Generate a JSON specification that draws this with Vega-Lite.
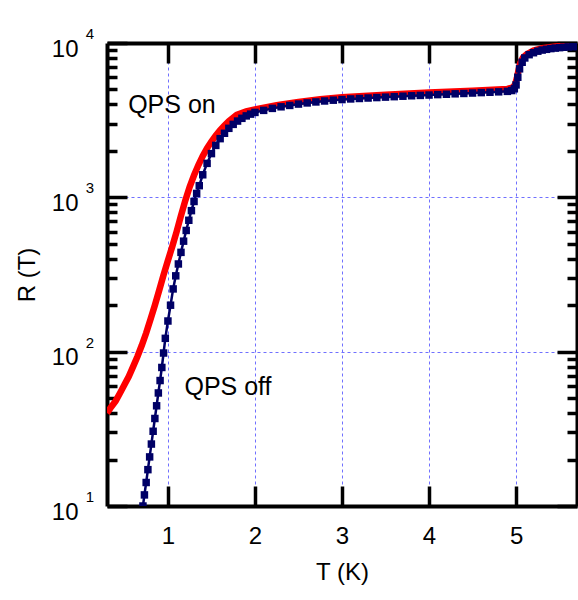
{
  "$schema": "https://vega.github.io/schema/vega-lite/v6.json",
  "width": 470,
  "height": 463,
  "autosize": "none",
  "padding": {"left": 107, "top": 43, "right": 1, "bottom": 94},
  "background": "white",
  "config": {
    "view": {"stroke": null},
    "font": "Liberation Sans",
    "axis": {
      "domainColor": "black",
      "domainWidth": 4,
      "tickColor": "black",
      "tickWidth": 3.5,
      "labelColor": "black",
      "labelFont": "Liberation Sans",
      "labelFontSize": 24,
      "titleFont": "Liberation Sans",
      "titleFontSize": 24,
      "titleFontWeight": "normal",
      "titleColor": "black",
      "gridColor": "#7070ff",
      "gridDash": [3, 3],
      "gridWidth": 1,
      "labelOverlap": false,
      "labelFlush": false,
      "labelBound": false
    }
  },
  "datasets": {
    "on": [
      {"T": 0.30, "R": 40}, {"T": 0.35, "R": 44}, {"T": 0.40, "R": 48}, {"T": 0.45, "R": 54},
      {"T": 0.50, "R": 61}, {"T": 0.55, "R": 69}, {"T": 0.60, "R": 80}, {"T": 0.65, "R": 93},
      {"T": 0.70, "R": 110}, {"T": 0.75, "R": 132}, {"T": 0.80, "R": 162}, {"T": 0.85, "R": 200},
      {"T": 0.90, "R": 250}, {"T": 0.95, "R": 315}, {"T": 1.00, "R": 390}, {"T": 1.05, "R": 480},
      {"T": 1.10, "R": 600}, {"T": 1.15, "R": 760}, {"T": 1.20, "R": 955}, {"T": 1.25, "R": 1170},
      {"T": 1.30, "R": 1390}, {"T": 1.35, "R": 1620}, {"T": 1.40, "R": 1850}, {"T": 1.45, "R": 2080},
      {"T": 1.50, "R": 2300}, {"T": 1.55, "R": 2520}, {"T": 1.60, "R": 2720}, {"T": 1.65, "R": 2920},
      {"T": 1.70, "R": 3120}, {"T": 1.79, "R": 3420}, {"T": 1.90, "R": 3600}, {"T": 2.00, "R": 3710},
      {"T": 2.25, "R": 3950}, {"T": 2.50, "R": 4150}, {"T": 2.75, "R": 4320}, {"T": 3.00, "R": 4450},
      {"T": 3.50, "R": 4620}, {"T": 4.00, "R": 4780}, {"T": 4.50, "R": 4910}, {"T": 4.90, "R": 5040},
      {"T": 4.96, "R": 5150}, {"T": 4.99, "R": 5400}, {"T": 5.01, "R": 5950}, {"T": 5.03, "R": 6750},
      {"T": 5.05, "R": 7450}, {"T": 5.08, "R": 8050}, {"T": 5.12, "R": 8450}, {"T": 5.20, "R": 8950},
      {"T": 5.30, "R": 9250}, {"T": 5.45, "R": 9500}, {"T": 5.70, "R": 9800}
    ],
    "off": [
      {"T": 0.705, "R": 9.3}, {"T": 0.713, "R": 10}, {"T": 0.73, "R": 11.8}, {"T": 0.75, "R": 14.2},
      {"T": 0.77, "R": 17.2}, {"T": 0.79, "R": 20.8}, {"T": 0.81, "R": 25.2}, {"T": 0.83, "R": 30.5},
      {"T": 0.85, "R": 36.9}, {"T": 0.87, "R": 44.6}, {"T": 0.89, "R": 54}, {"T": 0.91, "R": 65},
      {"T": 0.93, "R": 79}, {"T": 0.95, "R": 98}, {"T": 0.97, "R": 122}, {"T": 1.00, "R": 158},
      {"T": 1.03, "R": 200}, {"T": 1.06, "R": 255}, {"T": 1.09, "R": 310}, {"T": 1.12, "R": 370},
      {"T": 1.15, "R": 440}, {"T": 1.18, "R": 520}, {"T": 1.21, "R": 610}, {"T": 1.24, "R": 710},
      {"T": 1.27, "R": 820}, {"T": 1.30, "R": 940}, {"T": 1.33, "R": 1060}, {"T": 1.36, "R": 1190},
      {"T": 1.40, "R": 1400}, {"T": 1.45, "R": 1660}, {"T": 1.50, "R": 1920}, {"T": 1.55, "R": 2170},
      {"T": 1.60, "R": 2400}, {"T": 1.65, "R": 2600}, {"T": 1.70, "R": 2800}, {"T": 1.75, "R": 2970},
      {"T": 1.80, "R": 3120}, {"T": 1.85, "R": 3250}, {"T": 1.90, "R": 3370}, {"T": 1.95, "R": 3460},
      {"T": 2.00, "R": 3550}, {"T": 2.10, "R": 3660}, {"T": 2.20, "R": 3770}, {"T": 2.30, "R": 3860},
      {"T": 2.40, "R": 3940}, {"T": 2.50, "R": 4020}, {"T": 2.60, "R": 4090}, {"T": 2.70, "R": 4150},
      {"T": 2.80, "R": 4210}, {"T": 2.90, "R": 4260}, {"T": 3.00, "R": 4300}, {"T": 3.10, "R": 4340},
      {"T": 3.20, "R": 4370}, {"T": 3.30, "R": 4400}, {"T": 3.40, "R": 4430}, {"T": 3.50, "R": 4460},
      {"T": 3.60, "R": 4490}, {"T": 3.70, "R": 4520}, {"T": 3.80, "R": 4550}, {"T": 3.90, "R": 4575},
      {"T": 4.00, "R": 4600}, {"T": 4.10, "R": 4630}, {"T": 4.20, "R": 4655}, {"T": 4.30, "R": 4685},
      {"T": 4.40, "R": 4710}, {"T": 4.50, "R": 4740}, {"T": 4.60, "R": 4770}, {"T": 4.70, "R": 4795},
      {"T": 4.80, "R": 4825}, {"T": 4.90, "R": 4860}, {"T": 4.95, "R": 4920}, {"T": 4.98, "R": 5050},
      {"T": 5.00, "R": 5350}, {"T": 5.02, "R": 6000}, {"T": 5.04, "R": 6800}, {"T": 5.07, "R": 7500},
      {"T": 5.10, "R": 8000}, {"T": 5.15, "R": 8400}, {"T": 5.20, "R": 8650}, {"T": 5.25, "R": 8850},
      {"T": 5.30, "R": 9000}, {"T": 5.35, "R": 9100}, {"T": 5.40, "R": 9200}, {"T": 5.45, "R": 9270},
      {"T": 5.50, "R": 9330}, {"T": 5.55, "R": 9380}, {"T": 5.60, "R": 9430}, {"T": 5.65, "R": 9470},
      {"T": 5.70, "R": 9500}
    ],
    "labels": [
      {"T": 1.046, "R": 3950, "text": "QPS on"},
      {"T": 1.69, "R": 59, "text": "QPS off"}
    ]
  },
  "layer": [
    {
      "data": {"name": "on"},
      "mark": {"type": "line", "color": "#ff0000", "strokeWidth": 6.5, "clip": true},
      "encoding": {
        "x": {
          "field": "T", "type": "quantitative",
          "scale": {"domain": [0.3, 5.7], "nice": false, "zero": false},
          "axis": {
            "orient": "bottom", "values": [1, 2, 3, 4, 5], "format": "d",
            "tickSize": -20, "labelPadding": 38, "grid": true, "titlePadding": 12
          },
          "title": "T (K)"
        },
        "y": {
          "field": "R", "type": "quantitative",
          "scale": {"type": "log", "domain": [10, 10000], "nice": false},
          "axis": {
            "orient": "left",
            "values": [10, 20, 30, 40, 50, 60, 70, 80, 90, 100, 200, 300, 400, 500, 600, 700, 800, 900, 1000, 2000, 3000, 4000, 5000, 6000, 7000, 8000, 9000, 10000],
            "tickSize": {"condition": {"test": "datum.value == 10 || datum.value == 100 || datum.value == 1000 || datum.value == 10000", "value": -20}, "value": -10},
            "labelExpr": "datum.value == 10 || datum.value == 100 || datum.value == 1000 || datum.value == 10000 ? '10' : ''",
            "labelPadding": 49,
            "labelOffset": 6,
            "grid": true,
            "gridOpacity": {"condition": {"test": "datum.value == 100 || datum.value == 1000", "value": 1}, "value": 0},
            "titlePadding": 12
          },
          "title": "R (T)"
        }
      }
    },
    {
      "data": {"name": "off"},
      "mark": {"type": "line", "color": "#000066", "strokeWidth": 2.5, "clip": true},
      "encoding": {
        "x": {
          "field": "T", "type": "quantitative",
          "axis": {"orient": "top", "values": [1, 2, 3, 4, 5], "labels": false, "tickSize": -20, "grid": false, "title": null}
        },
        "y": {
          "field": "R", "type": "quantitative",
          "axis": {
            "orient": "right", "labels": false, "grid": false, "title": null,
            "values": [10, 20, 30, 40, 50, 60, 70, 80, 90, 100, 200, 300, 400, 500, 600, 700, 800, 900, 1000, 2000, 3000, 4000, 5000, 6000, 7000, 8000, 9000, 10000],
            "tickSize": {"condition": {"test": "datum.value == 10 || datum.value == 100 || datum.value == 1000 || datum.value == 10000", "value": -20}, "value": -10}
          }
        }
      }
    },
    {
      "data": {"name": "off"},
      "mark": {"type": "square", "color": "#000066", "opacity": 1, "size": 56, "clip": true},
      "encoding": {
        "x": {"field": "T", "type": "quantitative", "axis": null},
        "y": {
          "field": "R", "type": "quantitative",
          "axis": {
            "orient": "left", "values": [10, 100, 1000, 10000],
            "labelExpr": "datum.value == 10 ? '1' : datum.value == 100 ? '2' : datum.value == 1000 ? '3' : '4'",
            "domain": false, "ticks": false, "tickSize": 0, "grid": false,
            "labelFontSize": 15, "labelPadding": 13.5, "labelOffset": -9.5, "title": null
          }
        }
      }
    },
    {
      "data": {"name": "labels"},
      "mark": {"type": "text", "font": "Liberation Sans", "fontSize": 25, "color": "black", "align": "center", "baseline": "middle"},
      "encoding": {
        "x": {"field": "T", "type": "quantitative", "axis": null},
        "y": {"field": "R", "type": "quantitative", "axis": null},
        "text": {"field": "text"}
      }
    }
  ],
  "resolve": {"axis": {"x": "independent", "y": "independent"}}
}
